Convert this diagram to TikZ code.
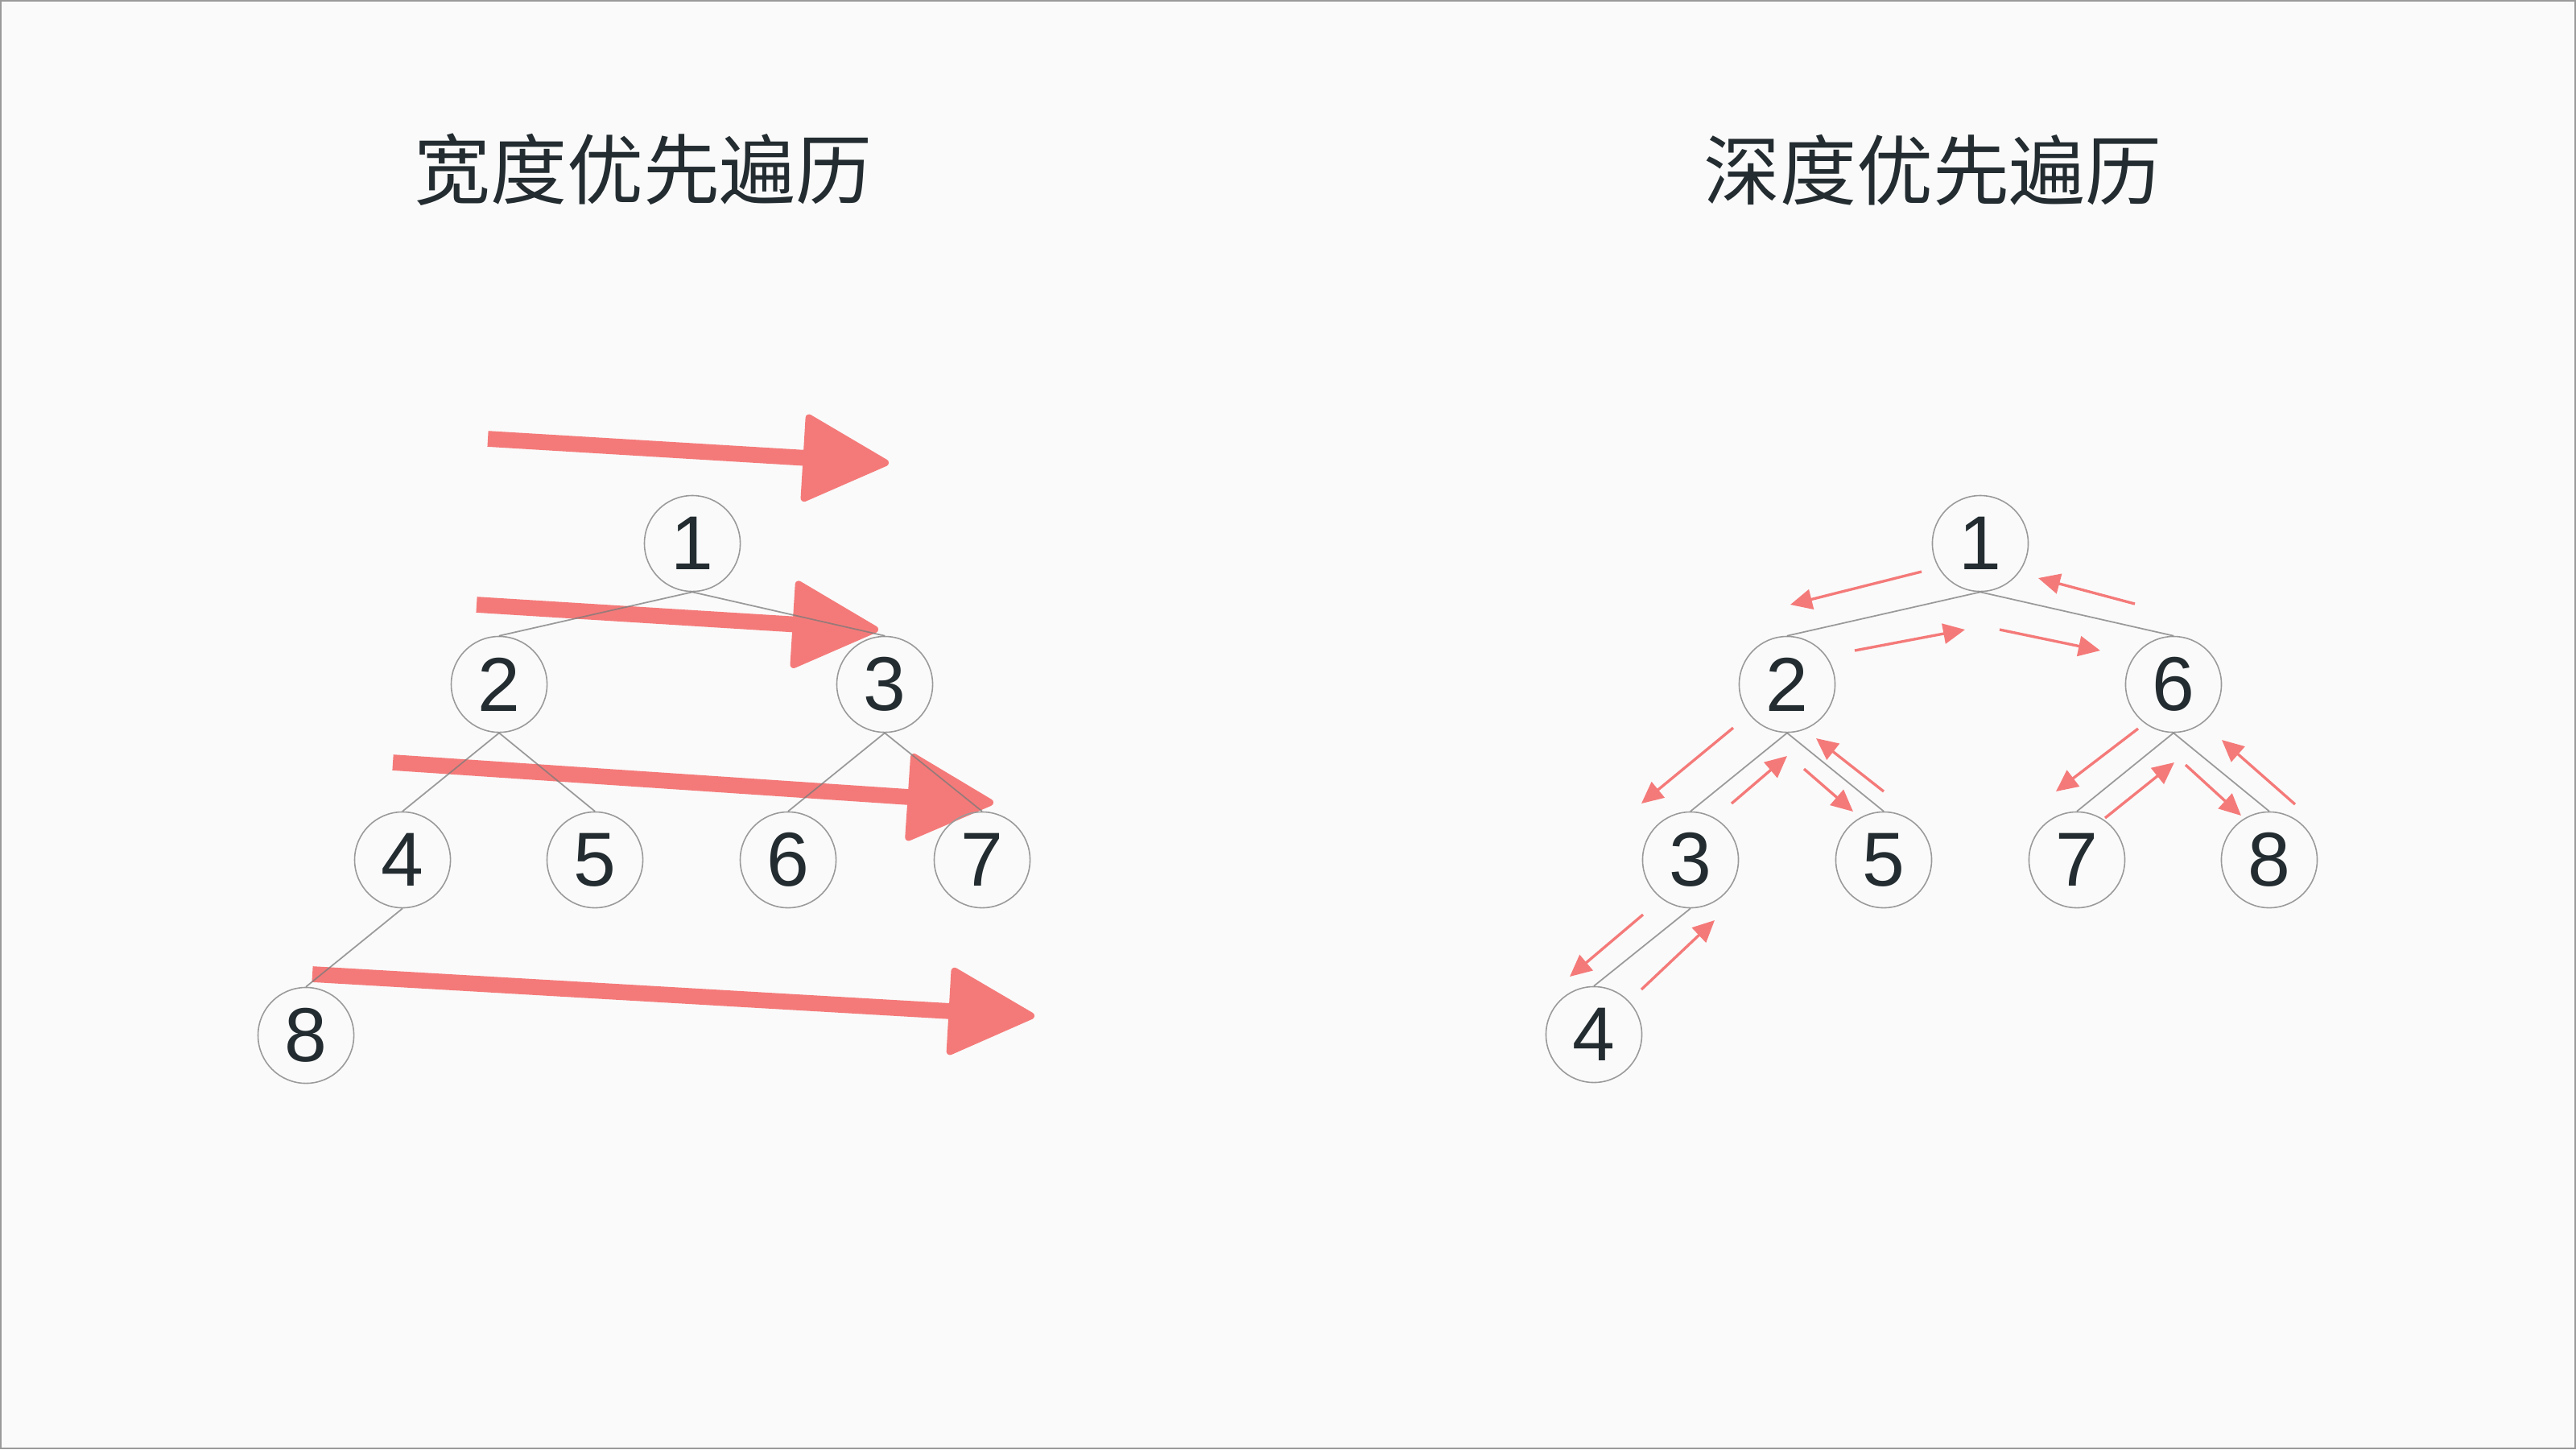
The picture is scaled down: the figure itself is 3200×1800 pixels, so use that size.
\documentclass[tikz,border=0pt]{standalone}
\usepackage{fontspec}
\setmainfont{Liberation Sans}
\newfontfamily\cjk{Noto Sans CJK SC}
\usetikzlibrary{arrows.meta}
\definecolor{bgc}{HTML}{FAFAFA}
\definecolor{framec}{HTML}{9A9A9A}
\definecolor{edgec}{HTML}{7A7A7A}
\definecolor{arrc}{HTML}{F47A79}
\definecolor{txtc}{HTML}{232C30}
\begin{document}
\begin{tikzpicture}[x=0.01cm,y=-0.01cm,
  tnode/.style={circle,draw=framec,line width=0.45pt,minimum size=1.19cm,inner sep=0pt,
    font=\fontsize{27}{27}\selectfont,text=txtc},
  tedge/.style={draw=edgec,line width=0.5pt,draw opacity=0.75},
  bigarrow/.style={draw=arrc,line width=5.6pt,
    -{Triangle[length=1.12cm,width=1.12cm,round,line width=2.5pt]}},
  smallarrow/.style={draw=arrc,line width=0.95pt,
    -{Triangle[length=0.27cm,width=0.25cm]}},
  title/.style={font=\cjk\fontsize{27}{28}\selectfont,text=txtc}]
% background and frame
\fill[bgc] (0,0) rectangle (3200,1800);
\draw[framec,line width=0.6pt] (1,1) rectangle (3199,1799);
\path[use as bounding box] (0,0) rectangle (3200,1800);

% titles
\node[title] (t1) at (799,211) {宽度优先遍历};
\node[title] (t2) at (2401,211) {深度优先遍历};

% ---- breadth-first arrows (drawn beneath the tree)
\coordinate (b1s) at (606,545);  \coordinate (b1e) at (1104,575);
\coordinate (b2s) at (592,751);  \coordinate (b2e) at (1091,782);
\coordinate (b3s) at (488,947);  \coordinate (b3e) at (1234,997);
\coordinate (b4s) at (388,1210); \coordinate (b4e) at (1285,1262);
\draw[bigarrow] (b1s) -- (b1e);
\draw[bigarrow] (b2s) -- (b2e);
\draw[bigarrow] (b3s) -- (b3e);
\draw[bigarrow] (b4s) -- (b4e);

% ---- left tree
\node[tnode] (L1) at (860,675) {1};
\node[tnode] (L2) at (620,850) {2};
\node[tnode] (L3) at (1099,850) {3};
\node[tnode] (L4) at (500,1068) {4};
\node[tnode] (L5) at (739,1068) {5};
\node[tnode] (L6) at (979,1068) {6};
\node[tnode] (L7) at (1220,1068) {7};
\node[tnode] (L8) at (380,1286) {8};
\draw[tedge] (L1.south) -- (L2.north);
\draw[tedge] (L1.south) -- (L3.north);
\draw[tedge] (L2.south) -- (L4.north);
\draw[tedge] (L2.south) -- (L5.north);
\draw[tedge] (L3.south) -- (L6.north);
\draw[tedge] (L3.south) -- (L7.north);
\draw[tedge] (L4.south) -- (L8.north);

% ---- right tree
\node[tnode] (R1) at (2460,675) {1};
\node[tnode] (R2) at (2220,850) {2};
\node[tnode] (R6) at (2700,850) {6};
\node[tnode] (R3) at (2100,1068) {3};
\node[tnode] (R5) at (2340,1068) {5};
\node[tnode] (R7) at (2580,1068) {7};
\node[tnode] (R8) at (2819,1068) {8};
\node[tnode] (R4) at (1980,1285) {4};
\draw[tedge] (R1.south) -- (R2.north);
\draw[tedge] (R1.south) -- (R6.north);
\draw[tedge] (R2.south) -- (R3.north);
\draw[tedge] (R2.south) -- (R5.north);
\draw[tedge] (R6.south) -- (R7.north);
\draw[tedge] (R6.south) -- (R8.north);
\draw[tedge] (R3.south) -- (R4.north);

% ---- depth-first arrows
\coordinate (a1s) at (2387,710);  \coordinate (a1e) at (2224,751);
\coordinate (a2s) at (2304,808);  \coordinate (a2e) at (2441,782);
\coordinate (a3s) at (2484,782);  \coordinate (a3e) at (2609,808);
\coordinate (a4s) at (2652,750);  \coordinate (a4e) at (2532,718);
\coordinate (a5s) at (2153,904);  \coordinate (a5e) at (2039,998);
\coordinate (a6s) at (2151,998);  \coordinate (a6e) at (2220,939);
\coordinate (a7s) at (2241,955);  \coordinate (a7e) at (2302,1008);
\coordinate (a8s) at (2340,983);  \coordinate (a8e) at (2256,917);
\coordinate (a9s) at (2041,1136); \coordinate (a9e) at (1950,1213);
\coordinate (a10s) at (2039,1229); \coordinate (a10e) at (2130,1143);
\coordinate (a11s) at (2656,905); \coordinate (a11e) at (2554,983);
\coordinate (a12s) at (2615,1016); \coordinate (a12e) at (2701,947);
\coordinate (a13s) at (2715,950); \coordinate (a13e) at (2784,1013);
\coordinate (a14s) at (2851,999); \coordinate (a14e) at (2760,919);
\foreach \i in {1,...,14}{
  \draw[smallarrow] (a\i s) -- (a\i e);
}
\end{tikzpicture}
\end{document}
